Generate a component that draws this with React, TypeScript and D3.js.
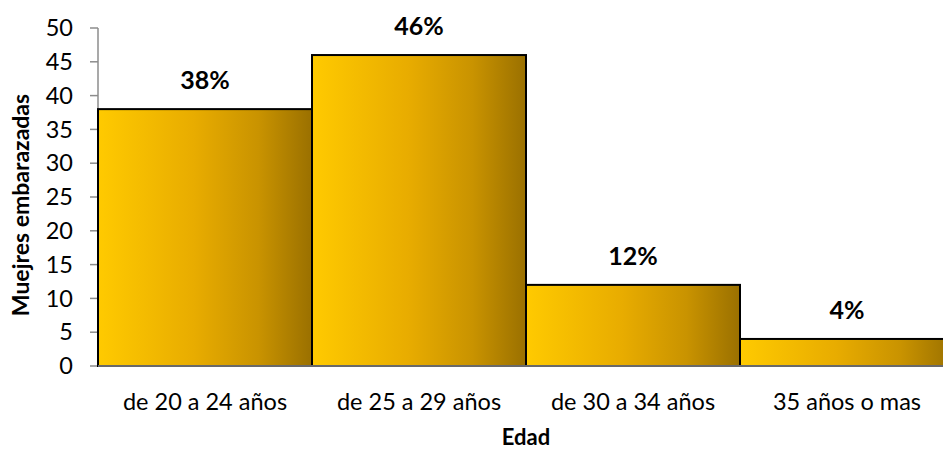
import React from "react";
import * as d3 from "d3";

const categories = ["de 20 a 24 años", "de 25 a 29 años", "de 30 a 34 años", "35 años o mas"];
const values = [38, 46, 12, 4];
const percentLabels = ["38%", "46%", "12%", "4%"];
const yTicks = [0, 5, 10, 15, 20, 25, 30, 35, 40, 45, 50];

const W = 943;
const H = 449;
const left = 98;
const right = 954;
const top = 28;
const bottom = 366;
const FONT = "Lato, 'Open Sans', sans-serif";

export default function App() {
  const x = d3.scaleBand<string>().domain(categories).range([left, right]).padding(0);
  const y = d3.scaleLinear().domain([0, 50]).range([bottom, top]);

  return (
    <svg width={W} height={H} style={{ position: "absolute", left: 0, top: 0 }}>
      <defs>
        <linearGradient id="barGrad" x1="0" x2="1" y1="0" y2="0">
          <stop offset="0%" stopColor="#FFCA00" />
          <stop offset="45%" stopColor="#E8AC00" />
          <stop offset="75%" stopColor="#C99300" />
          <stop offset="100%" stopColor="#9A7000" />
        </linearGradient>
      </defs>
      <line x1={left} x2={left} y1={top} y2={bottom} stroke="#8c8c8c" strokeWidth={1.5} />
      {yTicks.map((t) => (
        <g key={t}>
          <line x1={left - 8} x2={left} y1={y(t)} y2={y(t)} stroke="#8c8c8c" strokeWidth={1.5} />
          <text x={left - 25} y={y(t)} dy="0.35em" textAnchor="end" fontFamily={FONT} fontSize={23.5} fill="#000">
            {t}
          </text>
        </g>
      ))}
      {categories.map((c, i) => (
        <rect
          key={c}
          x={x(c)!}
          y={y(values[i])}
          width={x.bandwidth()}
          height={bottom - y(values[i])}
          fill="url(#barGrad)"
          stroke="#000"
          strokeWidth={2}
        />
      ))}
      <line x1={left} x2={right} y1={bottom} y2={bottom} stroke="#8c8c8c" strokeWidth={1.5} />
      {categories.map((c, i) => (
        <g key={"l" + c}>
          <text
            x={x(c)! + x.bandwidth() / 2}
            y={y(values[i]) - 29}
            dy="0.35em"
            textAnchor="middle"
            fontFamily={FONT}
            fontWeight="bold"
            fontSize={25}
            fill="#000"
          >
            {percentLabels[i]}
          </text>
          <text
            x={x(c)! + x.bandwidth() / 2}
            y={402}
            dy="0.35em"
            textAnchor="middle"
            fontFamily={FONT}
            fontSize={23.5}
            fill="#000"
          >
            {c}
          </text>
        </g>
      ))}
      <text x={526} y={437} dy="0.35em" textAnchor="middle" fontFamily={FONT} fontWeight="bold" fontSize={22} fill="#000">
        Edad
      </text>
      <text
        transform={`translate(21, ${(top + bottom) / 2 + 8}) rotate(-90)`}
        dy="0.35em"
        textAnchor="middle"
        fontFamily={FONT}
        fontWeight="bold"
        fontSize={23}
        fill="#000"
      >
        Muejres embarazadas
      </text>
    </svg>
  );
}
